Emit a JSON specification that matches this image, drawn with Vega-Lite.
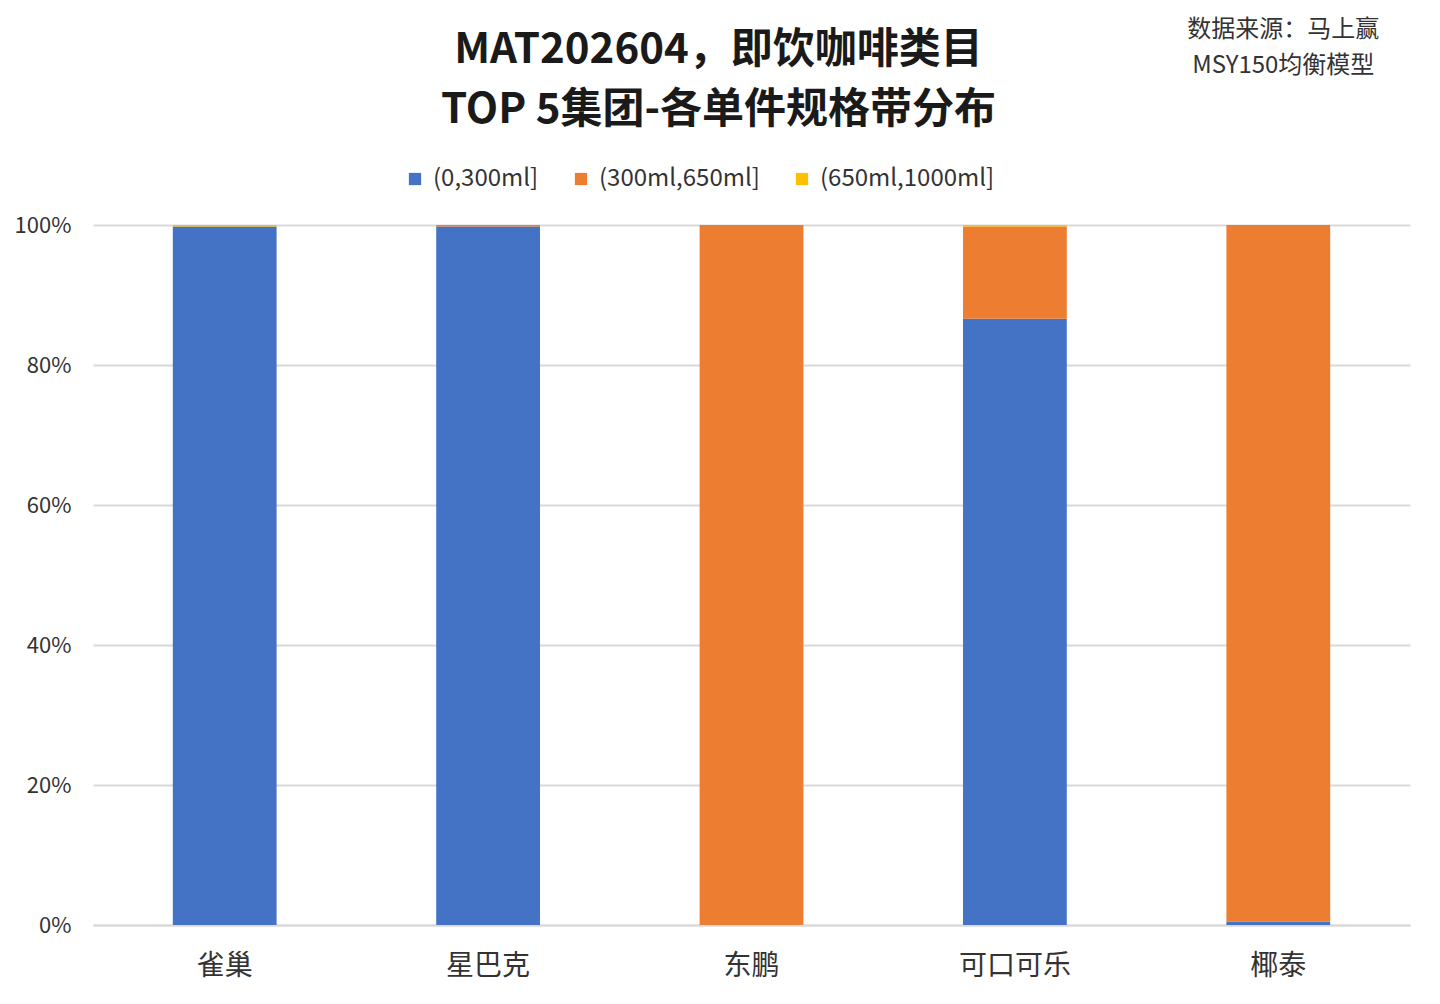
{
  "$schema": "https://vega.github.io/schema/vega-lite/v6.json",
  "width": 1317,
  "height": 700,
  "padding": {"left": 14, "top": 18, "right": 28, "bottom": 20},
  "background": "white",
  "title": {
    "text": ["MAT202604，即饮咖啡类目", "TOP 5集团-各单件规格带分布"],
    "fontSize": 42,
    "fontWeight": "bold",
    "font": "Noto Sans CJK SC",
    "color": "#1a1a1a",
    "lineHeight": 60,
    "anchor": "middle",
    "dx": -33,
    "offset": -114
  },
  "config": {
    "font": "Noto Sans CJK SC",
    "view": {"stroke": null}
  },
  "layer": [
    {
      "data": {
        "values": [
          {"group": "雀巢", "band": "(0,300ml]", "order": 1, "share": 99.8},
          {"group": "雀巢", "band": "(300ml,650ml]", "order": 2, "share": 0.0},
          {"group": "雀巢", "band": "(650ml,1000ml]", "order": 3, "share": 0.2},
          {"group": "星巴克", "band": "(0,300ml]", "order": 1, "share": 99.8},
          {"group": "星巴克", "band": "(300ml,650ml]", "order": 2, "share": 0.2},
          {"group": "星巴克", "band": "(650ml,1000ml]", "order": 3, "share": 0.0},
          {"group": "东鹏", "band": "(0,300ml]", "order": 1, "share": 0.0},
          {"group": "东鹏", "band": "(300ml,650ml]", "order": 2, "share": 100.0},
          {"group": "东鹏", "band": "(650ml,1000ml]", "order": 3, "share": 0.0},
          {"group": "可口可乐", "band": "(0,300ml]", "order": 1, "share": 86.6},
          {"group": "可口可乐", "band": "(300ml,650ml]", "order": 2, "share": 13.2},
          {"group": "可口可乐", "band": "(650ml,1000ml]", "order": 3, "share": 0.2},
          {"group": "椰泰", "band": "(0,300ml]", "order": 1, "share": 0.5},
          {"group": "椰泰", "band": "(300ml,650ml]", "order": 2, "share": 99.5},
          {"group": "椰泰", "band": "(650ml,1000ml]", "order": 3, "share": 0.0}
        ]
      },
      "mark": {"type": "bar"},
      "encoding": {
        "x": {
          "field": "group",
          "type": "nominal",
          "sort": ["雀巢", "星巴克", "东鹏", "可口可乐", "椰泰"],
          "title": null,
          "scale": {"paddingInner": 0.606, "paddingOuter": 0.303},
          "axis": {
            "labelAngle": 0,
            "labelFontSize": 28,
            "labelColor": "#333333",
            "labelPadding": 27,
            "ticks": false,
            "domainColor": "#d9d9d9",
            "domainWidth": 2
          }
        },
        "y": {
          "field": "share",
          "type": "quantitative",
          "stack": "zero",
          "title": null,
          "scale": {"domain": [0, 100], "nice": false},
          "axis": {
            "values": [0, 20, 40, 60, 80, 100],
            "labelExpr": "datum.value + '%'",
            "labelFontSize": 22,
            "labelColor": "#333333",
            "labelPadding": 22,
            "ticks": false,
            "domain": false,
            "gridColor": "#d9d9d9",
            "gridWidth": 2
          }
        },
        "color": {
          "field": "band",
          "type": "nominal",
          "sort": ["(0,300ml]", "(300ml,650ml]", "(650ml,1000ml]"],
          "scale": {
            "domain": ["(0,300ml]", "(300ml,650ml]", "(650ml,1000ml]"],
            "range": ["#4472C4", "#ED7D31", "#FFC000"]
          },
          "legend": {
            "title": null,
            "orient": "none",
            "direction": "horizontal",
            "legendX": 310,
            "legendY": -58,
            "symbolType": "square",
            "symbolSize": 150,
            "symbolStrokeWidth": 0,
            "labelFontSize": 24,
            "labelColor": "#333333",
            "labelLimit": 0,
            "columnPadding": 30,
            "labelOffset": 6
          }
        },
        "order": {"field": "order", "type": "quantitative"}
      }
    },
    {
      "data": {"values": [{"note": "source"}]},
      "mark": {
        "type": "text",
        "text": ["数据来源：马上赢", "MSY150均衡模型"],
        "fontSize": 24,
        "color": "#333333",
        "lineHeight": 36,
        "align": "center",
        "baseline": "top",
        "dx": 5
      },
      "encoding": {
        "x": {"datum": "椰泰"},
        "y": {"value": -207}
      }
    }
  ]
}
